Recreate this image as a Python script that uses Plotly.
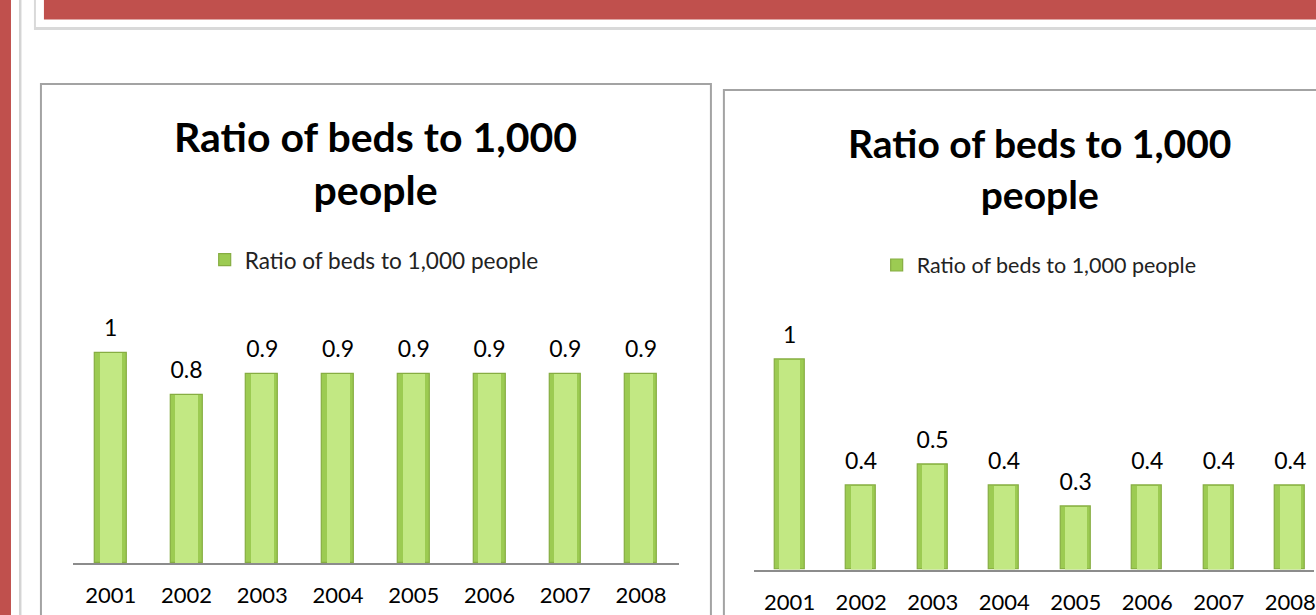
import plotly.graph_objects as go

W, H = 1316, 615

# Data
years = ["2001", "2002", "2003", "2004", "2005", "2006", "2007", "2008"]
ratio_left = [1, 0.8, 0.9, 0.9, 0.9, 0.9, 0.9, 0.9]
ratio_right = [1, 0.4, 0.5, 0.4, 0.3, 0.4, 0.4, 0.4]
chart_title = "Ratio of beds to 1,000<br>people"
series_name = "Ratio of beds to 1,000 people"

FONT = "Lato, 'Open Sans', sans-serif"
RED = "#c0504d"
BAR_DARK = "#9ccb52"
BAR_EDGE = "#86ad42"
BAR_LIGHT = "#c2e883"


def px(x):
    return x / W


def py(y):
    return 1 - y / H


fig = go.Figure()

for xa, ya, vals, leg in [("x", "y", ratio_left, "legend"), ("x2", "y2", ratio_right, "legend2")]:
    # base bar with a lighter, narrower face on top of it
    fig.add_trace(go.Bar(
        x=years, y=vals, xaxis=xa, yaxis=ya, name=series_name, width=0.42,
        marker=dict(color=BAR_DARK, line=dict(color=BAR_EDGE, width=1.2)),
        showlegend=True, legend=leg, hoverinfo="skip",
    ))
    fig.add_trace(go.Bar(
        x=years, y=vals, xaxis=xa, yaxis=ya, name=series_name, width=0.30,
        marker=dict(color=BAR_LIGHT, line=dict(width=0)),
        showlegend=False, hoverinfo="skip",
    ))
    # value labels; the invisible marker keeps the text clear of the bar top
    fig.add_trace(go.Scatter(
        x=years, y=vals, xaxis=xa, yaxis=ya, mode="markers+text",
        text=[f"{v:g}" for v in vals], textposition="top center",
        textfont=dict(family=FONT, size=23, color="#000"),
        marker=dict(size=16, color="rgba(0,0,0,0)"),
        showlegend=False, hoverinfo="skip", cliponaxis=False,
    ))

annotations = [
    dict(x=px(376.5), y=py(163), xref="paper", yref="paper", text=chart_title,
         showarrow=False, xanchor="center", yanchor="middle",
         font=dict(family=FONT, size=41, color="#000", weight="bold")),
    dict(x=px(1041), y=py(168), xref="paper", yref="paper", text=chart_title,
         showarrow=False, xanchor="center", yanchor="middle",
         font=dict(family=FONT, size=39, color="#000", weight="bold")),
]

shapes = [
    # left red strip and its shadow line
    dict(type="rect", xref="paper", yref="paper", x0=px(0), x1=px(11), y0=py(0), y1=py(H),
         fillcolor=RED, line=dict(width=0), layer="below"),
    dict(type="rect", xref="paper", yref="paper", x0=px(19), x1=px(21.5), y0=py(0), y1=py(H),
         fillcolor="#d4d4d4", line=dict(width=0), layer="below"),
    # header card with shadow and red band
    dict(type="rect", xref="paper", yref="paper", x0=px(34), x1=px(1330), y0=py(-5), y1=py(30),
         fillcolor="#d9d9d9", line=dict(width=0), layer="below"),
    dict(type="rect", xref="paper", yref="paper", x0=px(36), x1=px(1330), y0=py(-5), y1=py(27),
         fillcolor="#ffffff", line=dict(width=0), layer="below"),
    dict(type="rect", xref="paper", yref="paper", x0=px(44), x1=px(1330), y0=py(-5), y1=py(19.5),
         fillcolor=RED, line=dict(width=0), layer="below"),
    # chart frames
    dict(type="rect", xref="paper", yref="paper", x0=px(41), x1=px(712), y0=py(84), y1=py(630),
         fillcolor="rgba(0,0,0,0)", line=dict(color="#a3a3a3", width=2), layer="below"),
    dict(type="rect", xref="paper", yref="paper", x0=px(725), x1=px(1340), y0=py(90), y1=py(630),
         fillcolor="rgba(0,0,0,0)", line=dict(color="#a3a3a3", width=2), layer="below"),
]

xaxis_common = dict(
    type="category", showgrid=False, zeroline=False, showline=True,
    linecolor="#8c8c8c", linewidth=1.5, ticks="outside", ticklen=12,
    tickcolor="rgba(0,0,0,0)", tickfont=dict(family=FONT, size=22, color="#000"),
    fixedrange=True,
)
yaxis_common = dict(range=[0, 1.2], showgrid=False, zeroline=False, showline=False,
                    showticklabels=False, ticks="", fixedrange=True)

base_left = 563
base_right = 569.5
unit = 210

fig.update_layout(
    width=W, height=H,
    margin=dict(l=0, r=0, t=0, b=0),
    paper_bgcolor="#ffffff", plot_bgcolor="rgba(0,0,0,0)",
    barmode="overlay", bargap=0,
    showlegend=True,
    xaxis=dict(xaxis_common, domain=[px(73), px(680)], range=[-0.5, 7.5], anchor="y"),
    yaxis=dict(yaxis_common, domain=[py(base_left), py(base_left - 1.2 * unit)], anchor="x"),
    xaxis2=dict(xaxis_common, domain=[px(755), 1.0], range=[-0.5, 7.5 - 12 / 71.6], anchor="y2"),
    yaxis2=dict(yaxis_common, domain=[py(base_right), py(base_right - 1.2 * unit)], anchor="x2"),
    legend=dict(x=px(205), y=py(260), xanchor="left", yanchor="middle", orientation="h",
                bgcolor="rgba(0,0,0,0)", font=dict(family=FONT, size=22.6, color="#222")),
    legend2=dict(x=px(878), y=py(265), xanchor="left", yanchor="middle", orientation="h",
                 bgcolor="rgba(0,0,0,0)", font=dict(family=FONT, size=21.5, color="#222")),
    shapes=shapes,
    annotations=annotations,
)

fig.write_html("out.html", config={"displayModeBar": False})
